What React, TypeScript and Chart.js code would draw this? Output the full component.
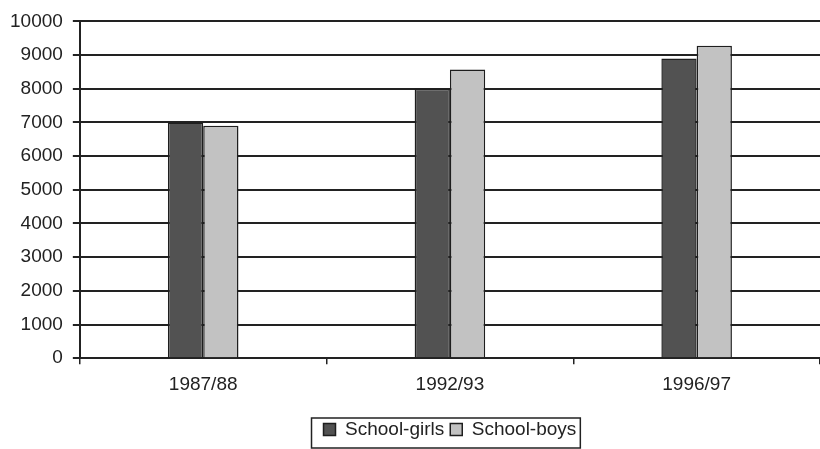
import React, { useEffect, useRef } from "react";
import { Chart, registerables } from "chart.js";

Chart.register(...registerables);

const categories = ["1987/88", "1992/93", "1996/97"];
const girls = [7000, 8000, 8900];
const boys = [6900, 8570, 9280];
const seriesNames = ["School-girls", "School-boys"];

const FONT = "'Liberation Sans', Arial, sans-serif";

const legendPlugin = {
  id: "legendFrame",
  beforeDraw(chart: any) {
    const lg = chart.legend;
    if (!lg) return;
    const ca = chart.chartArea;
    lg.left = ca.left;
    lg.right = ca.right;
  },
  afterDraw(chart: any) {
    const lg = chart.legend;
    if (!lg) return;
    const pad = lg.options.labels.padding;
    const lw = lg.lineWidths[0];
    const x0 = (lg.left + pad + lg.right - lw) / 2;
    const ctx = chart.ctx;
    ctx.save();
    ctx.strokeStyle = "#222";
    ctx.lineWidth = 1.5;
    ctx.strokeRect(x0 - 12, lg.top + 4, lw + 10, lg.bottom - lg.top - 5);
    ctx.restore();
  },
};

export default function App() {
  const ref = useRef<HTMLCanvasElement>(null);
  useEffect(() => {
    document.body.style.margin = "0";
    const chart = new Chart(ref.current!, {
      type: "bar",
      data: {
        labels: categories,
        datasets: [
          {
            label: seriesNames[0],
            data: girls,
            backgroundColor: "#525252",
            borderColor: "#1e1e1e",
            borderWidth: 1.5,
          },
          {
            label: seriesNames[1],
            data: boys,
            backgroundColor: "#c2c2c2",
            borderColor: "#1e1e1e",
            borderWidth: 1.5,
          },
        ],
      },
      options: {
        responsive: false,
        animation: false,
        layout: { padding: { top: 6, left: 0, right: 0, bottom: 0 } },
        datasets: {
          bar: { categoryPercentage: 0.286, barPercentage: 1 },
        },
        plugins: {
          tooltip: { enabled: false },
          legend: {
            position: "bottom",
            labels: {
              color: "#222",
              font: { family: FONT, size: 19 },
              boxWidth: 12,
              boxHeight: 12,
              padding: 6,
              generateLabels(chart: any) {
                return chart.data.datasets.map((ds: any, i: number) => ({
                  text: ds.label,
                  fillStyle: ds.backgroundColor,
                  strokeStyle: "#1e1e1e",
                  lineWidth: 1.5,
                  datasetIndex: i,
                  fontColor: "#222",
                }));
              },
            },
          },
        },
        scales: {
          x: {
            offset: true,
            afterFit: (scale: any) => {
              scale.height += 9;
            },
            grid: {
              offset: true,
              drawOnChartArea: false,
              drawTicks: true,
              tickLength: 6,
              color: "#222",
              lineWidth: 1.5,
            },
            border: { color: "#222", width: 2 },
            ticks: {
              color: "#222",
              font: { family: FONT, size: 19 },
              padding: 9,
            },
          },
          y: {
            min: 0,
            max: 10000,
            grid: {
              color: "#222",
              lineWidth: 2,
              tickLength: 7,
            },
            border: { color: "#222", width: 2 },
            ticks: {
              stepSize: 1000,
              color: "#222",
              font: { family: FONT, size: 19 },
              padding: 10,
              callback: (v: any) => String(v),
            },
          },
        },
      },
      plugins: [legendPlugin],
    });
    return () => chart.destroy();
  }, []);
  return (
    <div style={{ width: 820, height: 449, background: "#fff" }}>
      <canvas ref={ref} width={820} height={449} style={{ display: "block" }} />
    </div>
  );
}
